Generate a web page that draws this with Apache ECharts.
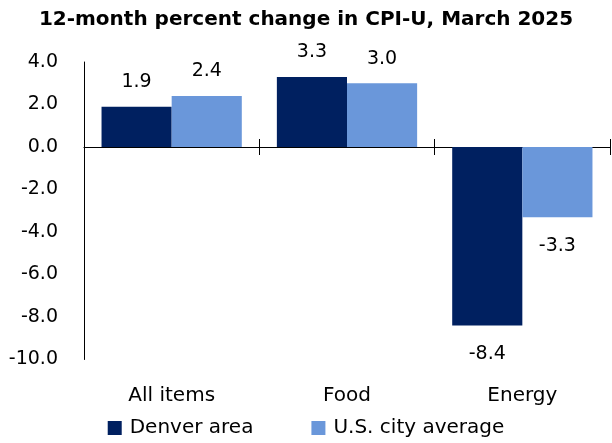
<!DOCTYPE html>
<html>
<head>
<meta charset="utf-8">
<script src="https://cdn.jsdelivr.net/npm/echarts@6/dist/echarts.min.js"></script>
<style>
  html, body { margin: 0; padding: 0; background: #fff; }
  #chart { width: 612px; height: 443px; }
</style>
</head>
<body>
<div id="chart"></div>
<script>
// Categories and series values (12-month percent change, CPI-U)
const categories = ['All items', 'Food', 'Energy'];
const denverArea = [1.9, 3.3, -8.4];
const usCityAverage = [2.4, 3.0, -3.3];
const seriesNames = ['Denver area', 'U.S. city average'];
const yTicks = { min: -10, max: 4, interval: 2 };

const FONT = '"DejaVu Sans", sans-serif';
const FS_NUM = 19;   // tick and value labels
const FS_TEXT = 20;  // title, categories, legend
const chart = echarts.init(document.getElementById('chart'), null, { renderer: 'canvas' });

// Plot rectangle shared by the main grid and the overlay grid used for the
// downward half of the category separator ticks.
const plotRect = { left: 84, right: 2, top: 62, bottom: 83.5, containLabel: false, outerBoundsMode: 'none' };

function barSeries(name, values, color) {
  return {
    name: name,
    type: 'bar',
    xAxisIndex: 0,
    yAxisIndex: 0,
    data: values.map(v => ({
      value: v,
      label: v >= 0 ? { position: 'top', distance: 15 } : { position: 'bottom', distance: 19 }
    })),
    itemStyle: { color: color },
    barGap: '0%',
    barCategoryGap: '20%',
    label: {
      show: true,
      color: '#000',
      fontFamily: FONT,
      fontSize: FS_NUM,
      formatter: p => p.value.toFixed(1)
    }
  };
}

chart.setOption({
  animation: false,
  title: {
    text: '12-month percent change in CPI-U, March 2025',
    left: 'center',
    top: 5,
    textStyle: { fontFamily: FONT, fontSize: FS_TEXT, fontWeight: 'bold', color: '#000' }
  },
  legend: {
    top: 418,
    left: 'center',
    padding: 0,
    itemWidth: 14,
    itemHeight: 14,
    itemGap: 58,
    icon: 'rect',
    textStyle: { fontFamily: FONT, fontSize: FS_TEXT, color: '#000', padding: [0, 0, 0, 3] },
    data: seriesNames
  },
  grid: [Object.assign({}, plotRect), Object.assign({}, plotRect)],
  xAxis: [
    {
      // category labels along the bottom of the plot
      type: 'category',
      gridIndex: 0,
      data: categories,
      position: 'bottom',
      axisLine: { show: false, onZero: false },
      axisTick: { show: false },
      axisLabel: { margin: 26, color: '#000', fontFamily: FONT, fontSize: FS_TEXT }
    },
    {
      // zero line with upward separator ticks
      type: 'category',
      gridIndex: 0,
      data: categories,
      position: 'top',
      axisLine: { show: true, onZero: true, lineStyle: { color: '#000', width: 1.2 } },
      axisTick: { show: true, length: 8, lineStyle: { color: '#000' } },
      axisLabel: { show: false }
    },
    {
      // downward separator ticks at zero
      type: 'category',
      gridIndex: 1,
      data: categories,
      position: 'bottom',
      axisLine: { show: false, onZero: true },
      axisTick: { show: true, length: 8, lineStyle: { color: '#000' } },
      axisLabel: { show: false }
    }
  ],
  yAxis: [
    {
      type: 'value',
      gridIndex: 0,
      min: yTicks.min,
      max: yTicks.max,
      interval: yTicks.interval,
      axisLine: { show: true, lineStyle: { color: '#000' } },
      axisTick: { show: false },
      splitLine: { show: false },
      axisLabel: {
        margin: 26,
        color: '#000',
        fontFamily: FONT,
        fontSize: FS_NUM,
        hideOverlap: false,
        formatter: v => v.toFixed(1)
      }
    },
    {
      type: 'value',
      gridIndex: 1,
      min: yTicks.min,
      max: yTicks.max,
      interval: yTicks.interval,
      show: false
    }
  ],
  series: [
    barSeries(seriesNames[0], denverArea, '#002060'),
    barSeries(seriesNames[1], usCityAverage, '#6a97da')
  ]
});
</script>
</body>
</html>
